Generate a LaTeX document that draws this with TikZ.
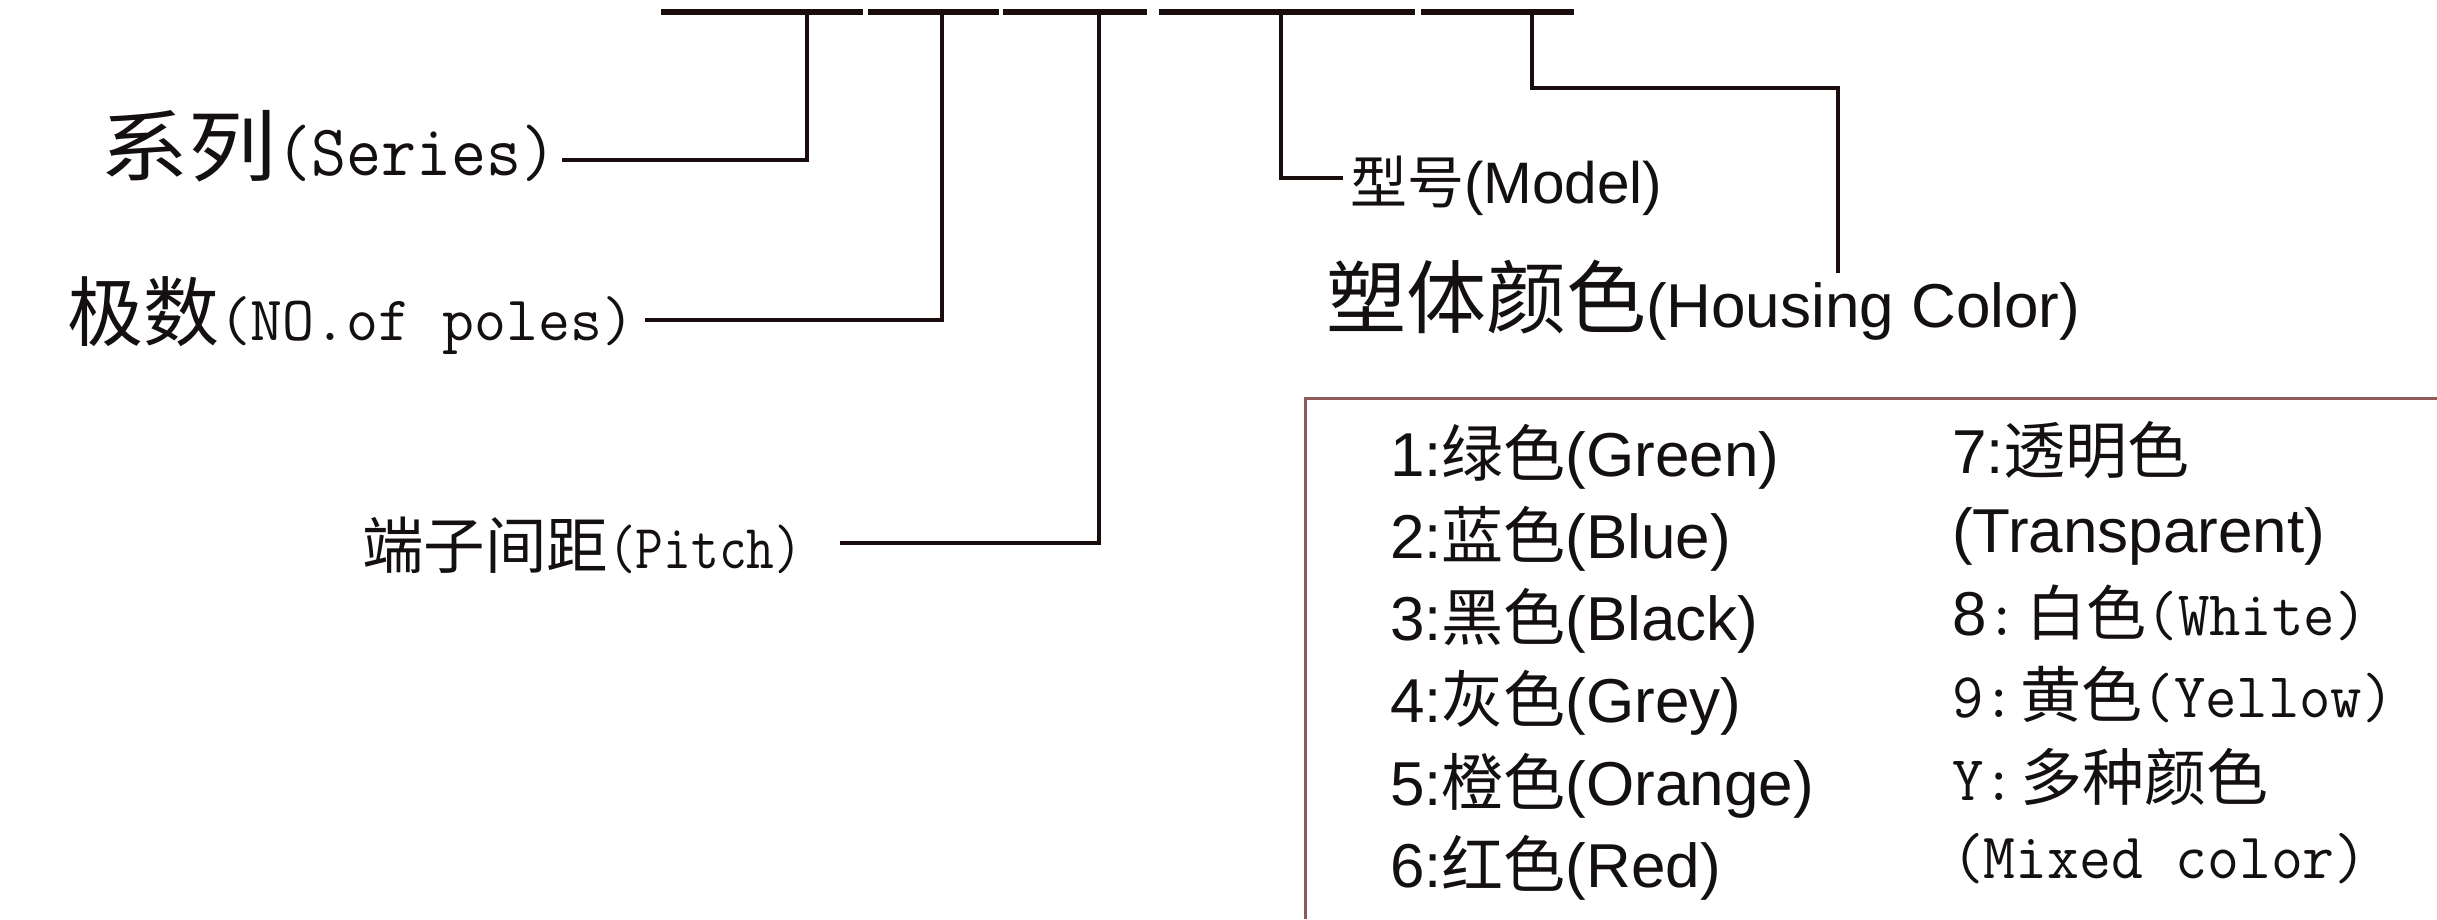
\documentclass[tikz,border=0pt]{standalone}
\usepackage{fontspec}
\setmainfont{Liberation Sans}
\newfontfamily\cjk{Noto Sans CJK SC}
\usepackage{graphicx}
\definecolor{ink}{HTML}{141010}
\definecolor{lineink}{HTML}{1A0D0D}
\definecolor{boxline}{HTML}{8C5A5A}
\newcommand\Cn[2]{{\cjk\fontsize{#1}{#1}\selectfont #2}}
\newcommand\La[2]{{\rmfamily\fontsize{#1}{#1}\selectfont #2}}
% mono text: size, x-scale, y-scale, text
\newcommand\Mo[4]{{\ttfamily\fontsize{#1}{#1}\selectfont\scalebox{#2}[#3]{#4}}}
\begin{document}
\begin{tikzpicture}[x=1pt,y=-1pt,
  lbl/.style={anchor=base west, inner sep=0pt, outer sep=0pt, text=ink},
  bar/.style={line width=6pt, draw=lineink},
  conn/.style={line width=4.5pt, draw=lineink},
  frame/.style={line width=3pt, draw=boxline}]
\fill[white] (0,0) rectangle (2437,919);
\useasboundingbox (0,0) rectangle (2437,919);

% top code bar
\coordinate (b1a) at (661,12);  \coordinate (b1b) at (863,12);
\coordinate (b2a) at (868,12);  \coordinate (b2b) at (999,12);
\coordinate (b3a) at (1003,12); \coordinate (b3b) at (1147,12);
\coordinate (b4a) at (1159,12); \coordinate (b4b) at (1415,12);
\coordinate (b5a) at (1421,12); \coordinate (b5b) at (1574,12);
\draw[bar] (b1a) -- (b1b);
\draw[bar] (b2a) -- (b2b);
\draw[bar] (b3a) -- (b3b);
\draw[bar] (b4a) -- (b4b);
\draw[bar] (b5a) -- (b5b);

% taps on the bar
\coordinate (jS) at (807,12);
\coordinate (jP) at (942,12);
\coordinate (jT) at (1099,12);
\coordinate (jM) at (1281,12);
\coordinate (jC) at (1532,12);

% labels
\node[lbl] (series) at (100,175) {\Cn{78}{\scalebox{1.13}[1]{系列}}\Mo{66}{1.03}{1.1}{(Series)}};
\node[lbl] (poles) at (67,340) {\Cn{76}{极数}\Mo{62}{1}{1.02}{(NO.of poles)}};
\node[lbl] (pitch) at (362,568) {\Cn{61.5}{端子间距}\Mo{58}{0.93}{1.08}{(Pitch)}};
\node[lbl] (model) at (1350,203) {\Cn{57}{型号}\La{58.5}{(Model)}};
\node[lbl] (housing) at (1326,327) {\Cn{80}{塑体颜色}\La{62}{(Housing Color)}};

% connector ends
\coordinate (sEnd) at (562,160);
\coordinate (pEnd) at (645,320);
\coordinate (tEnd) at (840,543);
\coordinate (mEnd) at (1343,178);
\coordinate (cTurn) at (1838,88);
\coordinate (cEnd) at (1838,273);

\draw[conn] (jS) |- (sEnd);
\draw[conn] (jP) |- (pEnd);
\draw[conn] (jT) |- (tEnd);
\draw[conn] (jM) |- (mEnd);
\draw[conn] (jC) |- (cTurn) -- (cEnd);

% colour table frame (open to the right and bottom)
\coordinate (fTR) at (2437,398);
\coordinate (fTL) at (1305,398);
\coordinate (fBL) at (1305,919);
\draw[frame] (fTR) -- (fTL) -- (fBL);

% column 1
\node[lbl] (c1) at (1390,476) {\La{62}{1:}\Cn{62}{绿色}\La{62}{(Green)}};
\node[lbl] (c2) at (1390,558) {\La{62}{2:}\Cn{62}{蓝色}\La{62}{(Blue)}};
\node[lbl] (c3) at (1390,640) {\La{62}{3:}\Cn{62}{黑色}\La{62}{(Black)}};
\node[lbl] (c4) at (1390,722) {\La{62}{4:}\Cn{62}{灰色}\La{62}{(Grey)}};
\node[lbl] (c5) at (1390,805) {\La{62}{5:}\Cn{62}{橙色}\La{62}{(Orange)}};
\node[lbl] (c6) at (1390,887) {\La{62}{6:}\Cn{62}{红色}\La{62}{(Red)}};

% column 2
\node[lbl] (c7) at (1952,473) {\La{62}{7:}\Cn{62}{透明色}};
\node[lbl] (c7b) at (1952,552) {\La{62}{(Transparent)}};
\node[lbl] (c8) at (1952,635) {\La{62}{8}\Mo{58}{1.05}{1.1}{:}\hspace{9pt}\Cn{60}{白色}\Mo{58}{1.05}{1.1}{(White)}};
\node[lbl] (c9) at (1952,717) {\Mo{58}{1.05}{1.1}{9:}\hspace{6pt}\Cn{61}{黄色}\Mo{58}{1.05}{1.1}{(Yellow)}};
\node[lbl] (cY) at (1952,800) {\Mo{58}{1.05}{1.1}{Y:}\hspace{6pt}\Cn{62}{多种颜色}};
\node[lbl] (cYb) at (1952,878) {\Mo{59}{1.05}{1.1}{(Mixed color)}};
\end{tikzpicture}
\end{document}
